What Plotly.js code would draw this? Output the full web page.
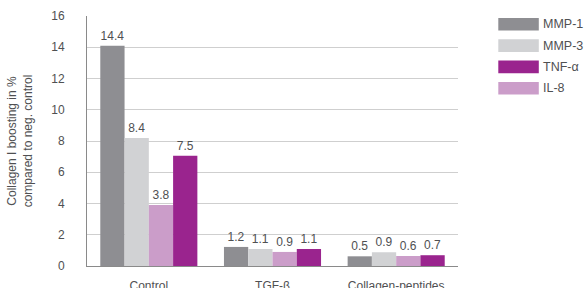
<!DOCTYPE html>
<html><head><meta charset="utf-8">
<script src="https://cdn.plot.ly/plotly-3.0.1.min.js"></script>
<style>body{margin:0;background:#fff}#chart{width:587px;height:288px}</style>
</head><body><div id="chart"></div>
<script>
const categories = ["Control", "TGF-β", "Collagen-peptides"];
// bar order in each group: MMP-1, MMP-3, IL-8, TNF-α
const seriesNames = ["MMP-1", "MMP-3", "IL-8", "TNF-α"];
const mmp1 = [14.1, 1.22, 0.62];
const mmp3 = [8.2, 1.09, 0.88];
const il8 = [3.9, 0.9, 0.64];
const tnfa = [7.05, 1.09, 0.69];
const mmp1Labels = ["14.4", "1.2", "0.5"];
const mmp3Labels = ["8.4", "1.1", "0.9"];
const il8Labels = ["3.8", "0.9", "0.6"];
const tnfaLabels = ["7.5", "1.1", "0.7"];
const colors = ["#8e8e92", "#d1d2d4", "#cb9dc9", "#9a248e"];
const legendOrder = ["MMP-1", "MMP-3", "TNF-α", "IL-8"];

const values = [mmp1, mmp3, il8, tnfa];
const labels = [mmp1Labels, mmp3Labels, il8Labels, tnfaLabels];
const txt = "#4f5052";
const font = "Liberation Sans, Arial, sans-serif";

const traces = seriesNames.map((n, i) => ({
  type: "bar", name: n, x: categories, y: values[i],
  text: labels[i], textposition: "outside", cliponaxis: false,
  textfont: {family: font, size: 12, color: txt},
  marker: {color: colors[i], line: {width: 0}},
  showlegend: false
}));

const shapes = [], annotations = [];
legendOrder.forEach((n, k) => {
  const i = seriesNames.indexOf(n);
  const yc = 24 + k * 21.3;
  shapes.push({type: "rect", xref: "paper", yref: "paper",
    x0: (498 - 86.7) / 371, x1: (538.5 - 86.7) / 371,
    y0: (265.7 - (yc - 6.3)) / 250, y1: (265.7 - (yc + 6.3)) / 250,
    fillcolor: colors[i], line: {width: 0}});
  annotations.push({xref: "paper", yref: "paper", x: (541 - 86.7) / 371,
    y: (265.7 - yc) / 250, xanchor: "left", yanchor: "middle", showarrow: false,
    text: n, font: {family: font, size: 12.5, color: txt}});
});

const layout = {
  width: 587, height: 288,
  margin: {l: 86.7, r: 129.3, t: 15.7, b: 22.3},
  paper_bgcolor: "#fff", plot_bgcolor: "#fff",
  barmode: "group", bargap: 0.215, bargroupgap: 0,
  showlegend: false,
  font: {family: font, size: 12, color: txt},
  xaxis: {showline: true, linecolor: "#8a8a8a", linewidth: 1.2,
    tickfont: {family: font, size: 12, color: txt}, ticks: "", ticklabelstandoff: 8},
  yaxis: {range: [0, 16], dtick: 2, showgrid: true, gridcolor: "#cfcfcf", gridwidth: 1,
    showline: true, linecolor: "#8a8a8a", linewidth: 1, zeroline: false,
    ticks: "", ticklabelstandoff: 19,
    tickfont: {family: font, size: 12, color: txt},
    title: {text: "Collagen I boosting in %<br>compared to neg. control",
      font: {family: font, size: 12, color: txt}, standoff: 16}},
  shapes: shapes, annotations: annotations
};
Plotly.newPlot("chart", traces, layout, {displayModeBar: false, staticPlot: true});
</script></body></html>
